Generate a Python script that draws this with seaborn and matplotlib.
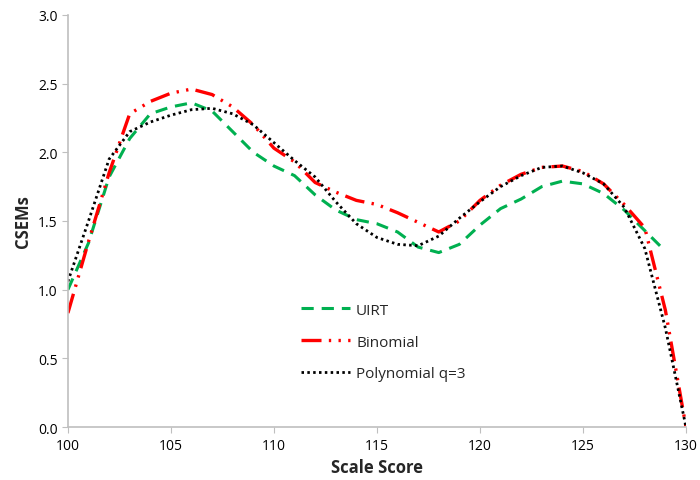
import matplotlib
matplotlib.use("Agg")
import matplotlib.pyplot as plt
import seaborn as sns
import pandas as pd

scores = list(range(100, 131))
uirt = [1.00, 1.34, 1.82, 2.10, 2.28, 2.33, 2.36, 2.30, 2.15, 2.00,
        1.90, 1.83, 1.69, 1.58, 1.51, 1.48, 1.42, 1.31, 1.27, 1.33,
        1.47, 1.59, 1.66, 1.75, 1.79, 1.77, 1.70, 1.58, 1.43, 1.28, None]
binomial = [0.83, 1.35, 1.85, 2.28, 2.37, 2.43, 2.46, 2.42, 2.33, 2.20,
            2.03, 1.93, 1.78, 1.71, 1.65, 1.62, 1.56, 1.49, 1.42, 1.50,
            1.65, 1.76, 1.84, 1.89, 1.90, 1.86, 1.77, 1.62, 1.45, 0.85, 0.00]
poly = [1.06, 1.50, 1.95, 2.15, 2.22, 2.27, 2.31, 2.32, 2.28, 2.20,
        2.07, 1.94, 1.82, 1.64, 1.48, 1.38, 1.33, 1.32, 1.39, 1.52,
        1.64, 1.75, 1.83, 1.89, 1.90, 1.85, 1.77, 1.60, 1.30, 0.72, 0.00]
labels = ["UIRT", "Binomial", "Polynomial q=3"]
xticks = [100, 105, 110, 115, 120, 125, 130]
yticks = [0.0, 0.5, 1.0, 1.5, 2.0, 2.5, 3.0]

sns.set_style("white")
plt.rcParams["font.family"] = ["Open Sans", "DejaVu Sans"]

fig = plt.figure(figsize=(7, 4.81), dpi=100)
ax = fig.add_axes([0.097, 0.110, 0.883, 0.857])

styles = {
    "UIRT": dict(color="#00B050", lw=2.2, dashes=(4, 2.6)),
    "Binomial": dict(color="#FF0000", lw=2.4, dashes=(6, 2.2, 0.7, 2.2, 0.7, 2.2)),
    "Polynomial q=3": dict(color="#000000", lw=2.0, dashes=(0.9, 1.2)),
}
for name, vals in zip(labels, [uirt, binomial, poly]):
    df = pd.DataFrame({"score": scores, "csem": vals}).dropna()
    st = styles[name]
    sns.lineplot(data=df, x="score", y="csem", ax=ax, color=st["color"],
                 linewidth=st["lw"], label=name)
    ax.lines[-1].set_dashes(st["dashes"])

ax.set_xlim(100, 130)
ax.set_ylim(0, 3.0)
ax.set_xticks(xticks)
ax.set_yticks(yticks)
ax.set_yticklabels([f"{v:.1f}" for v in yticks])
ax.tick_params(axis="both", labelsize=10, length=4, color="#BFBFBF",
               direction="out", left=True, bottom=True, colors="#000000")
ax.tick_params(axis="both", color="#BFBFBF")
for s in ["top", "right"]:
    ax.spines[s].set_visible(False)
for s in ["left", "bottom"]:
    ax.spines[s].set_color("#BFBFBF")
    ax.spines[s].set_linewidth(1.2)
ax.set_xlabel("Scale Score", fontsize=12, fontweight="bold")
ax.set_ylabel("CSEMs", fontsize=12, fontweight="bold")

leg = ax.legend(loc="upper left", bbox_to_anchor=(0.355, 0.335), frameon=False,
                fontsize=11, labelspacing=1.1, handlelength=3.2, handletextpad=0.4)
for h, name in zip(leg.get_lines(), labels):
    h.set_dashes(styles[name]["dashes"])

fig.savefig("out.png", dpi=100)
